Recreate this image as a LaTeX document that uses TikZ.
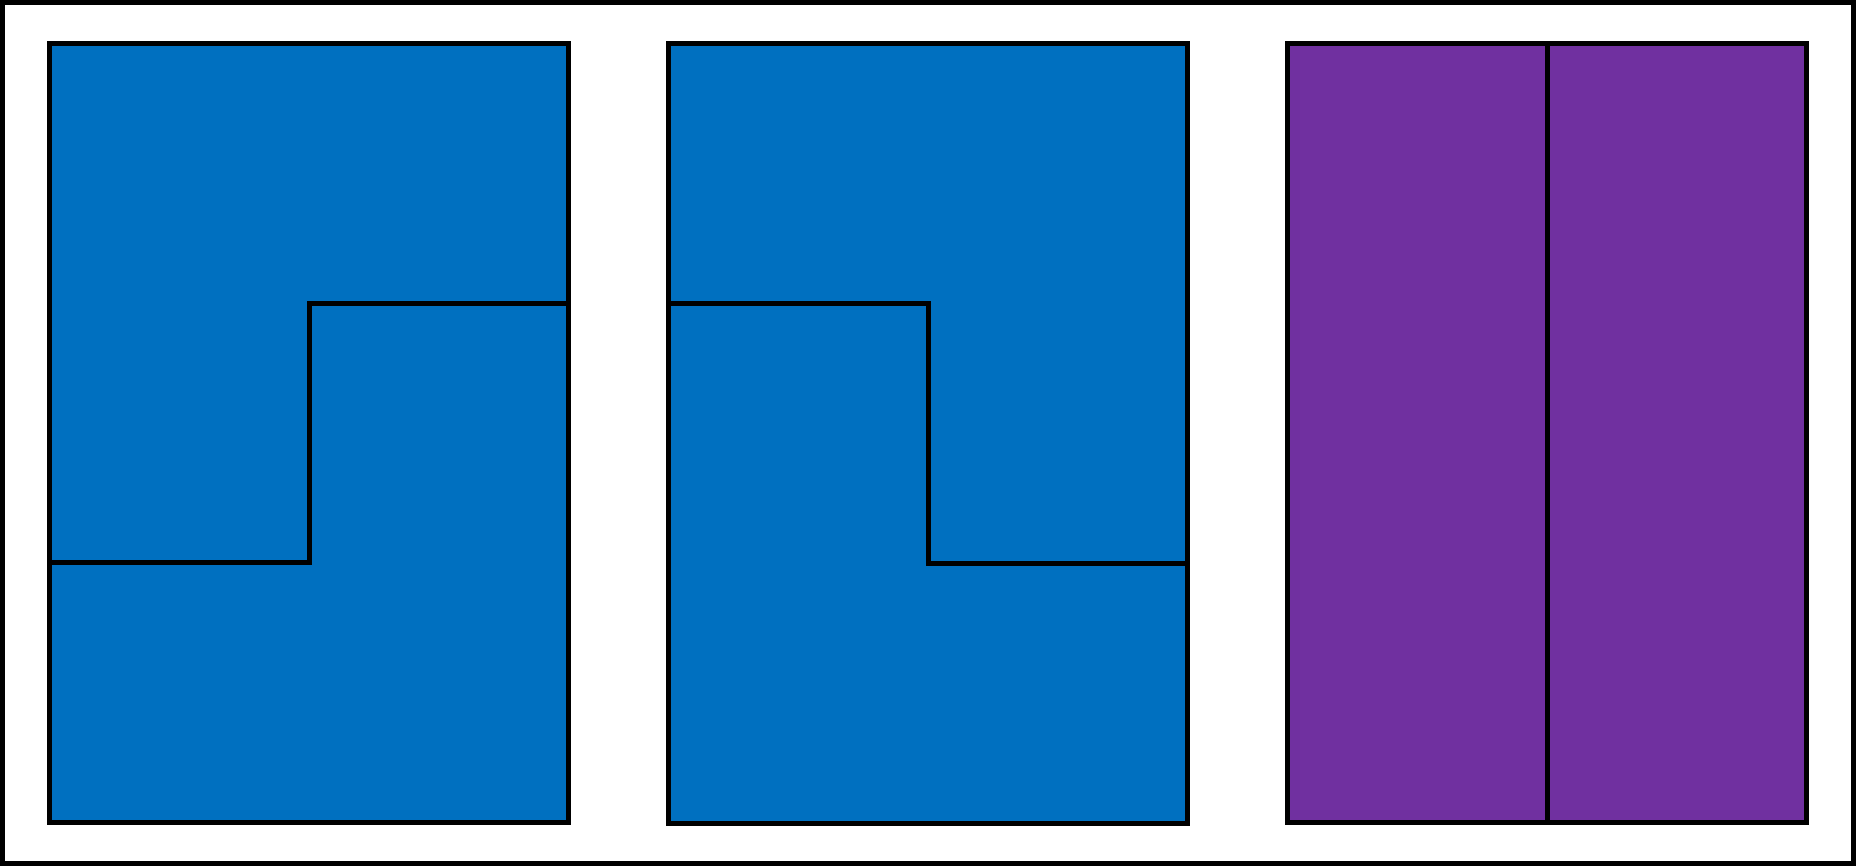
\documentclass[tikz,border=0pt]{standalone}
\usepackage{tikz}
\usetikzlibrary{positioning, calc}
\definecolor{azul}{HTML}{0070C0}
\definecolor{morado}{HTML}{7030A0}
\tikzset{
  pieza/.style={rectangle, draw=black, line width=0.05cm, inner sep=0pt, outer sep=0pt,
                minimum width=5.19cm, minimum height=7.79cm},
  piezaazul/.style={pieza, fill=azul},
  piezamorada/.style={pieza, fill=morado},
  corte/.style={line width=0.05cm, draw=black},
  marco/.style={line width=0.05cm, draw=black}
}
\begin{document}
\begin{tikzpicture}
  \useasboundingbox (0,0) rectangle (18.56,8.66);
  \draw [marco] (0.025,0.025) rectangle (18.535,8.635);
  \node (p1) [piezaazul] at (3.09,4.33) {};
  \node (p2) [piezaazul, minimum height=7.8cm] at (9.28,4.325) {};
  \node (p3) [piezamorada] at (15.47,4.33) {};
  % cortes en escalera
  \draw [corte] ($(p1.north east)!1/3!(p1.south east)$) -| ($(p1.north)!2/3!(p1.south)$)
    -- ($(p1.north west)!2/3!(p1.south west)$);
  \draw [corte] ($(p2.north west)!1/3!(p2.south west)$) -| ($(p2.north)!2/3!(p2.south)$)
    -- ($(p2.north east)!2/3!(p2.south east)$);
  \draw [corte] (p3.north) -- (p3.south);
\end{tikzpicture}
\end{document}
